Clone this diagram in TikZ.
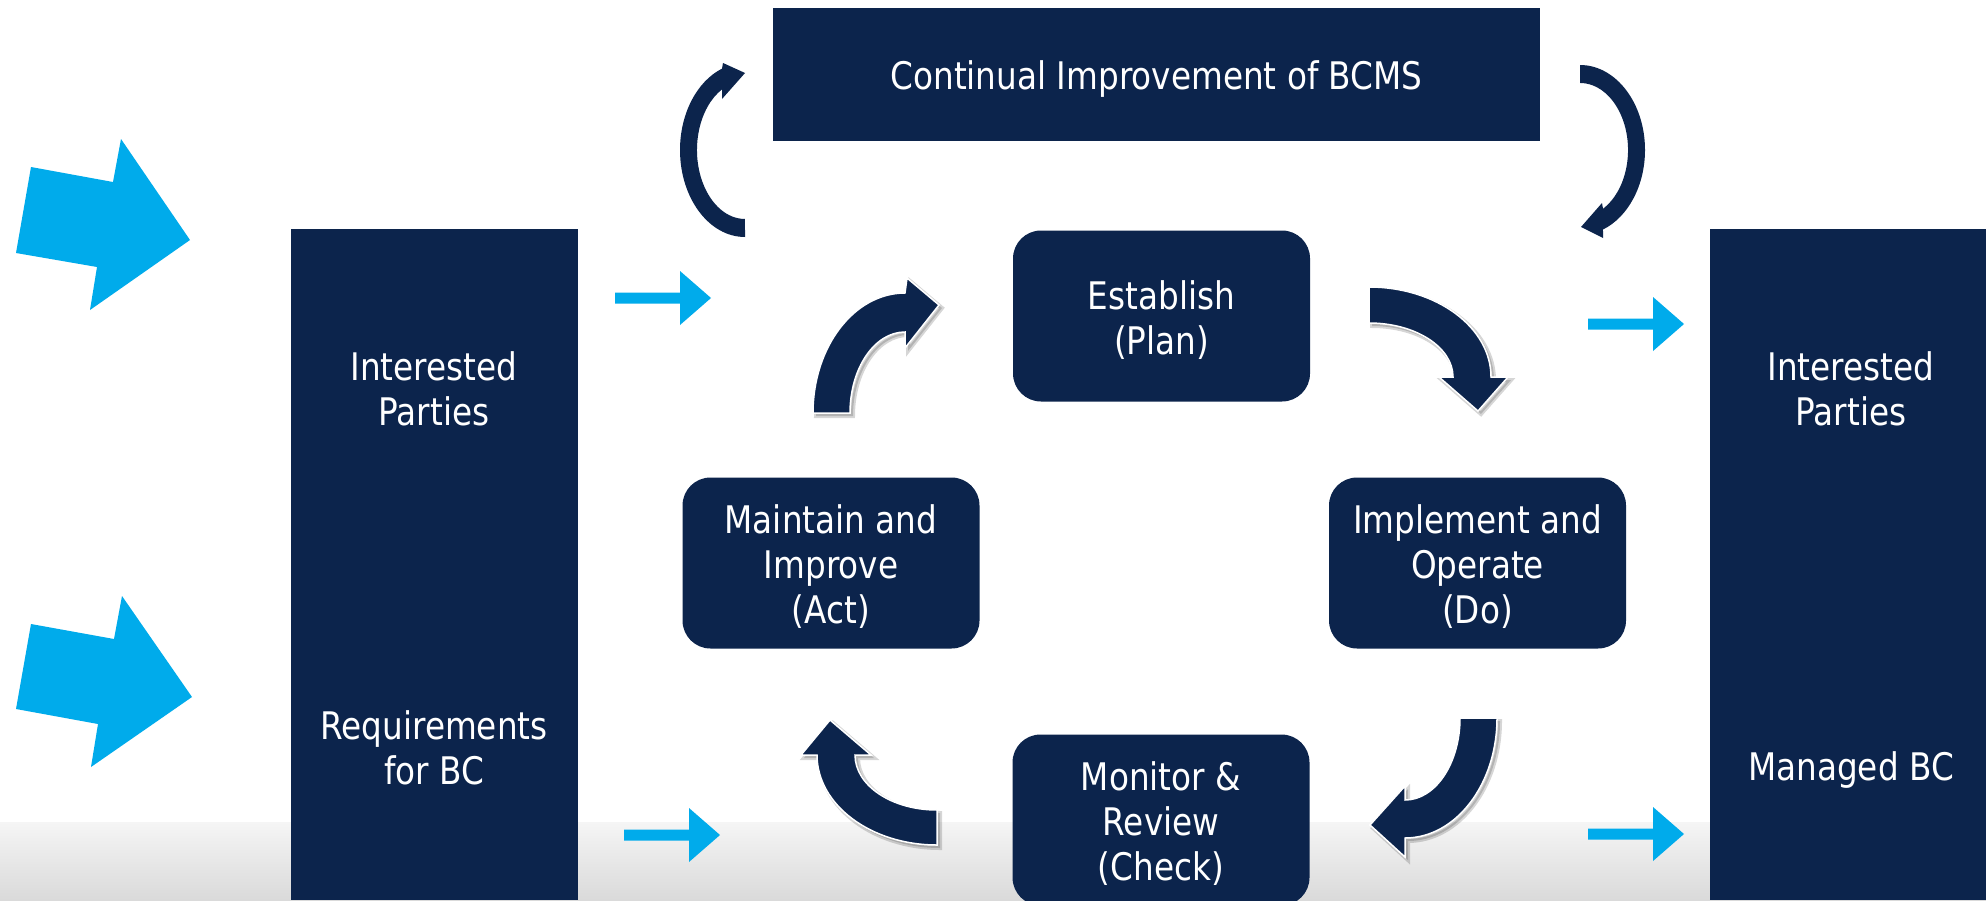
\documentclass[tikz,border=0pt]{standalone}
\usepackage{fontspec}
\setmainfont{DejaVu Sans}[FakeStretch=0.86]
\definecolor{bcnavy}{RGB}{12,36,76}
\definecolor{bcblue}{RGB}{0,171,235}
\definecolor{bandtop}{RGB}{245,245,245}
\definecolor{bandbot}{RGB}{218,218,218}
\begin{document}
\begin{tikzpicture}[x=1pt,y=-1pt,
  txt/.style={text=white, align=center, inner sep=0pt, font=\fontsize{38}{45}\selectfont},
  panel/.style={fill=bcnavy, inner sep=0pt},
  stepbox/.style={fill=bcnavy, rounded corners=28pt, minimum width=297pt, minimum height=171pt, inner sep=0pt},
  cycarrow/.style={fill=bcnavy, draw=white, line width=1.5pt, line join=miter,
    preaction={fill=black, draw=black, opacity=0.16, line width=4pt, transform canvas={shift={(3,3)}}}},
  pics/feed/.style={code={\fill[bcblue] (0,-5.5) -- (65,-5.5) -- (65,-27) -- (96,0) -- (65,27) -- (65,5.5) -- (0,5.5) -- cycle;}}]
\useasboundingbox (0,0) rectangle (1986,900);
\fill[white] (0,0) rectangle (1986,900);

% floor band
\shade[top color=bandtop, bottom color=bandbot] (0,822) rectangle (1986,900);

% input and output columns
\node[panel, minimum width=287pt, minimum height=671pt] (leftcol) at (434.5,564.5) {};
\node[panel, minimum width=276pt, minimum height=671pt] (rightcol) at (1848,564.5) {};
\node[txt] (inparties) at (434,389) {Interested\\Parties};
\node[txt] (inreq) at (434,748) {Requirements\\for BC};
\node[txt] (outparties) at (1851,389) {Interested\\Parties};
\node[txt] (outbc) at (1851,770) {Managed BC};

% continual improvement banner
\node[panel, minimum width=767pt, minimum height=133pt] (ci) at (1156.5,74.5) {};
\node[txt] (citext) at ([yshift=-5pt]ci.center) {Continual Improvement of BCMS};

% PDCA steps
\node[stepbox] (plan) at (1161.5,316) {};
\node[stepbox] (act) at (831,563) {};
\node[stepbox] (do) at (1477.5,563) {};
\node[stepbox] (check) at (1161,820) {};
\node[txt] (plantext) at ([yshift=-4pt]plan.center) {Establish\\(Plan)};
\node[txt] (acttext) at ([yshift=-4pt]act.center) {Maintain and\\Improve\\(Act)};
\node[txt] (dotext) at ([yshift=-4pt]do.center) {Implement and\\Operate\\(Do)};
\node[txt] (checktext) at ([yshift=-4pt]check.center) {Monitor \&\\Review\\(Check)};

% cycle arrows between the steps
\path[cycarrow] (1369,287) arc[start angle=270, end angle=360, x radius=122, y radius=90]
  -- (1508,377) -- (1478,411) -- (1439,377) -- (1453,377)
  arc[start angle=0, end angle=-90, x radius=84, y radius=54] -- cycle;
\path[cycarrow] (1497,718) arc[start angle=0, end angle=90, x radius=92, y radius=120]
  -- (1405,857) -- (1370,825) -- (1405,786) -- (1405,800)
  arc[start angle=90, end angle=0, x radius=55, y radius=82] -- cycle;
\path[cycarrow] (937,845) arc[start angle=90, end angle=180, x radius=120, y radius=90]
  -- (801,755) -- (830,720) -- (871,755) -- (855,755)
  arc[start angle=180, end angle=90, x radius=82, y radius=55] -- cycle;
\path[cycarrow] (813,413) arc[start angle=180, end angle=270, x radius=92, y radius=120]
  -- (907,278) -- (939,305) -- (905,348) -- (905,332)
  arc[start angle=270, end angle=180, x radius=55, y radius=81] -- cycle;

% improvement loop arrows beside the banner
\fill[bcnavy] (745,237) arc[start angle=90, end angle=249.3, x radius=65, y radius=87]
  -- (723,63) -- (745,73) -- (722,99) -- (722,89.4)
  arc[start angle=241.4, end angle=90, x radius=48, y radius=69] -- cycle;
\fill[bcnavy] (1580,65) arc[start angle=-90, end angle=69.3, x radius=65, y radius=85]
  -- (1603,238) -- (1581,227) -- (1602,203) -- (1603,208.8)
  arc[start angle=61.4, end angle=-90, x radius=48, y radius=67] -- cycle;

% large input arrows
\fill[bcblue] (31,167) -- (113,182) -- (121,139) -- (190,240) -- (90,310) -- (97,267) -- (16,253) -- cycle;
\fill[bcblue] (31,624) -- (114,639) -- (122,596) -- (192,697) -- (91,767) -- (98,724) -- (16,709) -- cycle;

% flow arrows
\pic at (615,298) {feed};
\pic at (624,835) {feed};
\pic at (1588,324) {feed};
\pic at (1588,834) {feed};
\end{tikzpicture}
\end{document}
